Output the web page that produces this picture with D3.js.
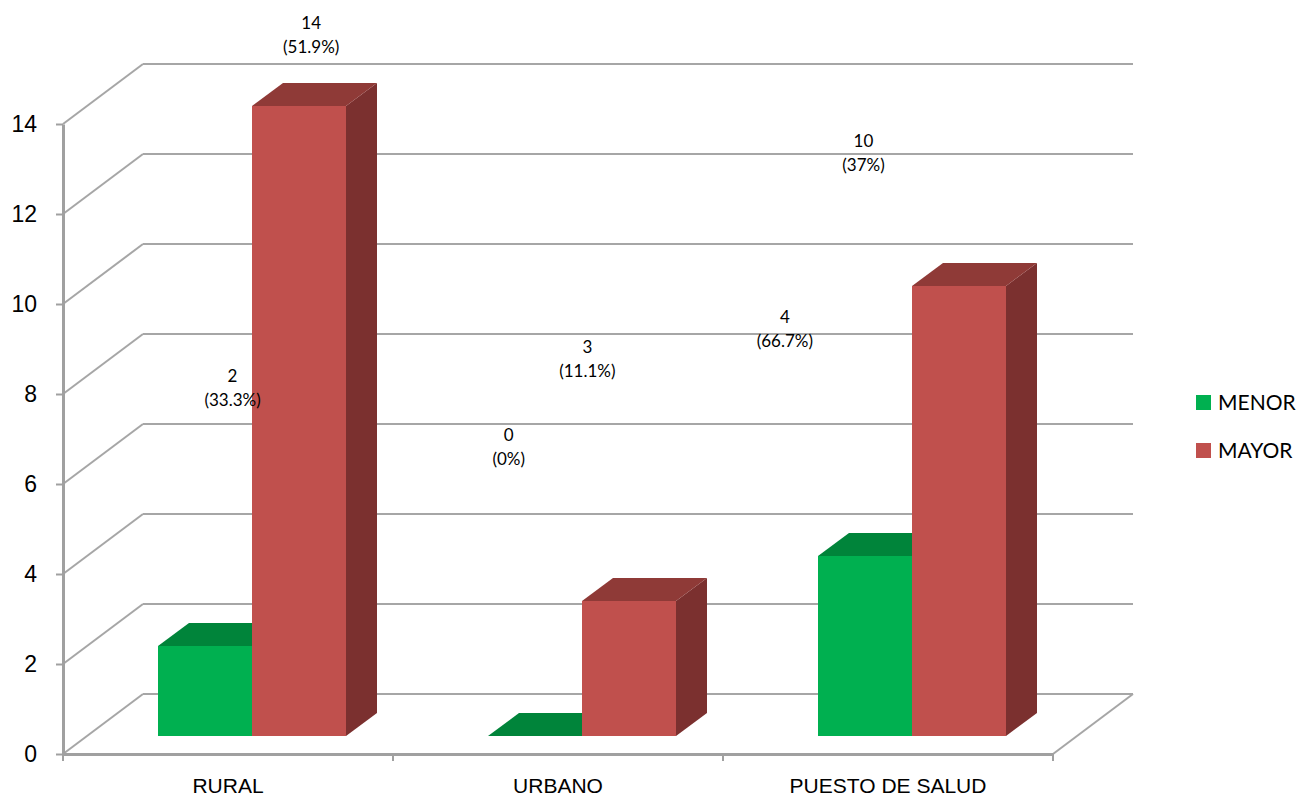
<!DOCTYPE html>
<html>
<head>
<meta charset="utf-8">
<script src="https://cdn.jsdelivr.net/npm/d3@7"></script>
<style>
  body { margin: 0; background: #fff; }
  svg { display: block; font-family: Lato, "Open Sans", sans-serif; }
  .axis text { fill: #000; }
</style>
</head>
<body>
<svg id="chart"></svg>
<script>
// datos
const categories = ["RURAL", "URBANO", "PUESTO DE SALUD"];
const seriesNames = ["MENOR", "MAYOR"];
const menorValues = [2, 0, 4];
const mayorValues = [14, 3, 10];
const menorPct = ["33.3%", "0%", "66.7%"];
const mayorPct = ["51.9%", "11.1%", "37%"];
const yTicks = [0, 2, 4, 6, 8, 10, 12, 14];

const width = 1305, height = 798;

// colores: frente, arriba, lado
const colors = {
  MENOR: { front: "#00b050", top: "#00843a", side: "#006b2f" },
  MAYOR: { front: "#c0504d", top: "#8f3a37", side: "#7b302f" }
};
const gridColor = "#a6a6a6";

const svg = d3.select("#chart").attr("width", width).attr("height", height);

// proyeccion falsa 3D
const depth = { dx: 80, dy: -60 };      // fondo de la pared
const barShift = { dx: 24, dy: -18 };   // plano frontal de las barras
const barDepth = { dx: 31, dy: -23 };   // profundidad de cada barra

const x = d3.scaleBand().domain(categories).range([63, 1053]);
const y = d3.scaleLinear().domain([0, 14]).range([754, 124]);
const groupWidth = 188;
const xs = d3.scaleBand().domain(seriesNames).range([0, groupWidth]);

// escalas de las etiquetas (Excel las proyecta aparte)
const labelX = d3.scaleLinear().domain([0, 1305]).range([61, 1153]);
const labelY = d3.scaleLinear().domain([0, 14]).range([448, 36]);

// pared del fondo
svg.append("g").selectAll("line")
  .data(yTicks)
  .join("line")
  .attr("x1", x.range()[0] + depth.dx)
  .attr("x2", x.range()[1] + depth.dx)
  .attr("y1", d => y(d) + depth.dy)
  .attr("y2", d => y(d) + depth.dy)
  .attr("stroke", gridColor)
  .attr("stroke-width", 2);

// pared izquierda (diagonales)
svg.append("g").selectAll("line")
  .data(yTicks)
  .join("line")
  .attr("x1", x.range()[0])
  .attr("x2", x.range()[0] + depth.dx)
  .attr("y1", d => y(d))
  .attr("y2", d => y(d) + depth.dy)
  .attr("stroke", gridColor)
  .attr("stroke-width", 2);

// piso, borde derecho
svg.append("line")
  .attr("x1", x.range()[1])
  .attr("x2", x.range()[1] + depth.dx)
  .attr("y1", y(0))
  .attr("y2", y(0) + depth.dy)
  .attr("stroke", gridColor)
  .attr("stroke-width", 2);

// barras
const bars = [];
categories.forEach((c, i) => {
  seriesNames.forEach(s => {
    const v = s === "MENOR" ? menorValues[i] : mayorValues[i];
    const pct = s === "MENOR" ? menorPct[i] : mayorPct[i];
    bars.push({ cat: c, series: s, value: v, pct: pct });
  });
});

const barG = svg.append("g");
bars.forEach(d => {
  const x0 = x(d.cat) + (x.bandwidth() - groupWidth) / 2 + xs(d.series) + barShift.dx;
  const x1 = x0 + xs.bandwidth();
  const yb = y(0) + barShift.dy;
  const yt = y(d.value) + barShift.dy;
  const ddx = barDepth.dx, ddy = barDepth.dy;
  const col = colors[d.series];
  d.cx = (x0 + x1) / 2;

  // lado
  barG.append("path")
    .attr("d", `M${x1},${yb} L${x1 + ddx},${yb + ddy} L${x1 + ddx},${yt + ddy} L${x1},${yt} Z`)
    .attr("fill", col.side);
  // arriba
  barG.append("path")
    .attr("d", `M${x0},${yt} L${x0 + ddx},${yt + ddy} L${x1 + ddx},${yt + ddy} L${x1},${yt} Z`)
    .attr("fill", col.top);
  // frente
  if (d.value > 0) {
    barG.append("rect")
      .attr("x", x0)
      .attr("y", yt)
      .attr("width", x1 - x0)
      .attr("height", yb - yt)
      .attr("fill", col.front);
  }
});

// ejes
const yAxis = d3.axisLeft(y)
  .tickValues(yTicks)
  .tickSize(7)
  .tickPadding(19)
  .tickSizeOuter(0);

const yAxisG = svg.append("g")
  .attr("class", "axis")
  .attr("transform", `translate(${x.range()[0]},0)`)
  .call(yAxis);
yAxisG.select(".domain").attr("stroke", "#a0a0a0").attr("stroke-width", 3);
yAxisG.selectAll(".tick line").attr("stroke", "#a0a0a0").attr("stroke-width", 2);
yAxisG.selectAll("text").style("font-size", "23px");

const xAxis = d3.axisBottom(x).tickSize(0).tickPadding(24).tickSizeOuter(0);
const xAxisG = svg.append("g")
  .attr("class", "axis")
  .attr("transform", `translate(0,${y(0)})`)
  .call(xAxis);
xAxisG.select(".domain").attr("stroke", "#a0a0a0").attr("stroke-width", 3);
xAxisG.selectAll("text").style("font-size", "21px");

// marcas entre categorias
const edges = categories.map(c => x(c) + x.bandwidth());
xAxisG.selectAll(".edge")
  .data([x.range()[0]].concat(edges))
  .join("line")
  .attr("class", "edge")
  .attr("x1", d => d).attr("x2", d => d)
  .attr("y1", 0).attr("y2", 7)
  .attr("stroke", "#a0a0a0")
  .attr("stroke-width", 2);

// etiquetas de datos
const labels = svg.append("g").selectAll("text")
  .data(bars)
  .join("text")
  .attr("text-anchor", "middle")
  .style("font-size", "17px")
  .attr("fill", "#000");

labels.append("tspan")
  .attr("x", d => labelX(d.cx))
  .attr("y", d => labelY(d.value) - 7)
  .text(d => d.value);
labels.append("tspan")
  .attr("x", d => labelX(d.cx))
  .attr("y", d => labelY(d.value) + 17)
  .text(d => `(${d.pct})`);

// leyenda
const legend = svg.append("g").attr("transform", "translate(1196,395)");
const items = legend.selectAll("g")
  .data(seriesNames)
  .join("g")
  .attr("transform", (d, i) => `translate(0,${i * 48})`);
items.append("rect")
  .attr("width", 15).attr("height", 15)
  .attr("fill", d => colors[d].front);
items.append("text")
  .attr("x", 22).attr("y", 15)
  .style("font-size", "21px")
  .text(d => d);
</script>
</body>
</html>
